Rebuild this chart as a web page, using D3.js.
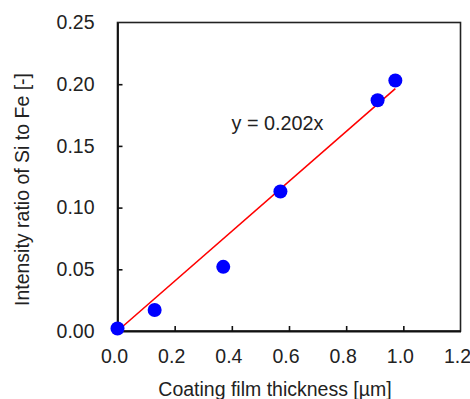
<!DOCTYPE html>
<html>
<head>
<meta charset="utf-8">
<script src="https://cdn.jsdelivr.net/npm/d3@7"></script>
<style>
  html, body { margin: 0; padding: 0; background: #fff; }
  svg { display: block; font-family: "Liberation Sans", Arial, sans-serif; }
</style>
</head>
<body>
<svg id="chart" width="470" height="399"></svg>
<script>
// Measured film thickness (µm) and Si/Fe intensity ratio
const thickness = [0.0, 0.13, 0.37, 0.57, 0.91, 0.972];
const ratio = [0.002, 0.017, 0.052, 0.113, 0.187, 0.203];
// Linear fit through the origin
const slope = 0.202;
const fitLabel = "y = 0.202x";
const xTicks = [0.0, 0.2, 0.4, 0.6, 0.8, 1.0, 1.2];
const yTicks = [0.00, 0.05, 0.10, 0.15, 0.20, 0.25];
const xTitle = "Coating film thickness [µm]";
const yTitle = "Intensity ratio of Si to Fe [-]";

const svg = d3.select("#chart");
const plotLeft = 117.5, plotRight = 460.5, plotTop = 22.5, plotBottom = 331;

const x = d3.scaleLinear().domain([0, 1.2]).range([plotLeft, plotRight]);
const y = d3.scaleLinear().domain([0, 0.25]).range([plotBottom, plotTop]);

const fontSize = 19.5;

// Plot frame
svg.append("rect")
  .attr("x", plotLeft).attr("y", plotTop)
  .attr("width", plotRight - plotLeft).attr("height", plotBottom - plotTop)
  .attr("fill", "none").attr("stroke", "#222").attr("stroke-width", 1.6);

// Inward tick marks (skip the ones that fall on the frame)
const xAxis = d3.axisBottom(x).tickValues(xTicks).tickSizeInner(-5).tickSizeOuter(0)
  .tickFormat(d3.format(".1f")).tickPadding(18.5);
const gx = svg.append("g").attr("transform", `translate(0,${plotBottom})`).call(xAxis);
gx.select(".domain").attr("stroke", "#111").attr("stroke-width", 1.8);
gx.selectAll(".tick line").attr("stroke", "#111").attr("stroke-width", 1.6)
  .filter(d => d === 0 || d === 1.2).remove();
gx.selectAll(".tick text").attr("font-size", fontSize).attr("fill", "#222")
  .attr("font-family", "Liberation Sans, Arial, sans-serif").attr("dx", -3.5);

const yAxis = d3.axisLeft(y).tickValues(yTicks).tickSizeInner(-5).tickSizeOuter(0)
  .tickFormat(d3.format(".2f")).tickPadding(23);
const gy = svg.append("g").attr("transform", `translate(${plotLeft},0)`).call(yAxis);
gy.select(".domain").attr("stroke", "#111").attr("stroke-width", 1.8);
gy.selectAll(".tick line").attr("stroke", "#111").attr("stroke-width", 1.6)
  .filter(d => d === 0 || d === 0.25).remove();
gy.selectAll(".tick text").attr("font-size", fontSize).attr("fill", "#222")
  .attr("font-family", "Liberation Sans, Arial, sans-serif");

// Fit line from origin to the thickest sample
const xMax = d3.max(thickness);
svg.append("line")
  .attr("x1", x(0)).attr("y1", y(0))
  .attr("x2", x(xMax)).attr("y2", y(slope * xMax))
  .attr("stroke", "#ff0000").attr("stroke-width", 1.6);

// Data points
svg.append("g").selectAll("circle")
  .data(thickness.map((t, i) => [t, ratio[i]]))
  .join("circle")
  .attr("cx", d => x(d[0])).attr("cy", d => y(d[1]))
  .attr("r", 7).attr("fill", "#0000ff");

// Fit equation
svg.append("text")
  .attr("x", 231.5).attr("y", 129.5)
  .attr("font-size", 19.8).attr("fill", "#222")
  .text(fitLabel);

// Axis titles
svg.append("text")
  .attr("x", (plotLeft + plotRight) / 2 - 14).attr("y", 396)
  .attr("text-anchor", "middle")
  .attr("font-size", fontSize).attr("fill", "#222")
  .text(xTitle);

svg.append("text")
  .attr("transform", `translate(29,189.5) rotate(-90)`)
  .attr("text-anchor", "middle")
  .attr("font-size", fontSize).attr("fill", "#222")
  .text(yTitle);
</script>
</body>
</html>
